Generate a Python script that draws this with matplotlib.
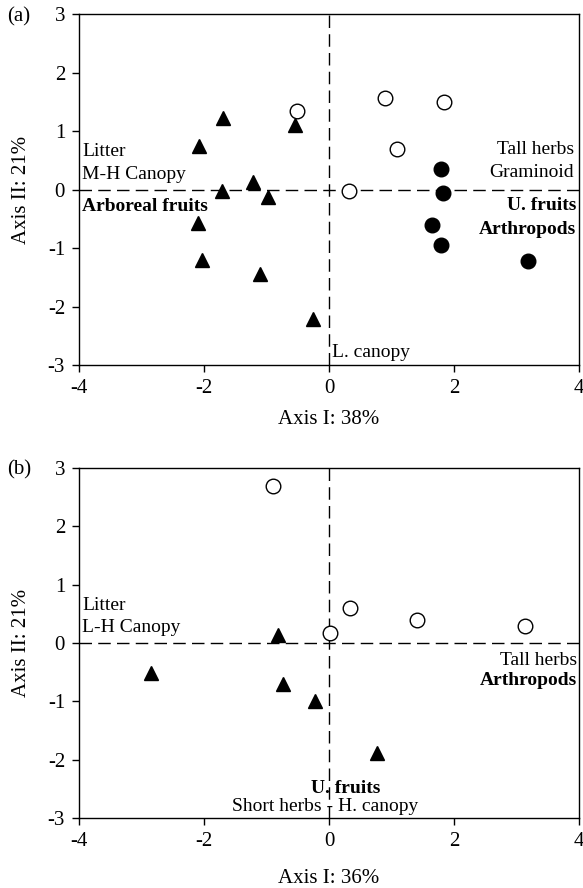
import matplotlib
matplotlib.use("Agg")
import matplotlib.pyplot as plt

plt.rcParams['font.family'] = ['Liberation Serif', 'DejaVu Serif']

# ---- Panel (a) data ----
a_tri_x = [-1.70, -2.08, -0.55, -1.21, -1.72, -0.97, -2.10, -2.03, -1.11, -0.26]
a_tri_y = [1.22, 0.74, 1.10, 0.13, -0.02, -0.13, -0.58, -1.21, -1.44, -2.21]
a_open_x = [-0.52, 0.89, 1.84, 1.08, 0.32]
a_open_y = [1.35, 1.57, 1.50, 0.69, -0.02]
a_fill_x = [1.79, 1.82, 1.64, 1.79, 3.18]
a_fill_y = [0.36, -0.05, -0.61, -0.95, -1.23]

# ---- Panel (b) data ----
b_tri_x = [-0.81, -2.85, -0.74, -0.22, 0.76]
b_tri_y = [0.14, -0.51, -0.70, -0.99, -1.89]
b_open_x = [-0.90, 0.34, 0.01, 1.41, 3.14]
b_open_y = [2.70, 0.60, 0.17, 0.39, 0.29]

ticks_x = [-4, -2, 0, 2, 4]
ticks_y = [-3, -2, -1, 0, 1, 2, 3]

fig = plt.figure(figsize=(5.83, 8.88), dpi=100)
axA = fig.add_axes([0.1355, 0.589, 0.858, 0.395])
axB = fig.add_axes([0.1355, 0.0788, 0.858, 0.394])

FS = 15
AFS = 14
MS = 10.5

def style(ax, xlabel, xpad):
    ax.set_xlim(-4, 4)
    ax.set_ylim(-3, 3)
    ax.set_xticks(ticks_x)
    ax.set_yticks(ticks_y)
    ax.set_xticklabels([str(t) for t in ticks_x])
    ax.set_yticklabels([str(t) for t in ticks_y])
    ax.tick_params(direction='out', length=5, width=1, labelsize=FS, pad=5)
    for s in ax.spines.values():
        s.set_linewidth(1.0)
        s.set_color('black')
    ax.axhline(0, color='black', lw=1.0, ls=(0, (9, 4.5)), zorder=1)
    ax.axvline(0, color='black', lw=1.0, ls=(0, (9, 4.5)), zorder=1)
    ax.set_xlabel(xlabel, fontsize=FS, labelpad=xpad)
    ax.set_ylabel('Axis II: 21%', fontsize=FS, labelpad=12)

# Panel (a)
style(axA, 'Axis I: 38%', 9)
axA.plot(a_tri_x, a_tri_y, ls='none', marker='^', ms=MS, mfc='black', mec='black', zorder=3)
axA.plot(a_open_x, a_open_y, ls='none', marker='o', ms=MS, mfc='white', mec='black', mew=1.0, zorder=3)
axA.plot(a_fill_x, a_fill_y, ls='none', marker='o', ms=MS, mfc='black', mec='black', zorder=3)
axA.text(-3.95, 0.65, 'Litter', fontsize=AFS, ha='left', va='center')
axA.text(-3.95, 0.26, 'M-H Canopy', fontsize=AFS, ha='left', va='center')
axA.text(-3.95, -0.29, 'Arboreal fruits', fontsize=AFS, ha='left', va='center', fontweight='bold')
axA.text(3.92, 0.69, 'Tall herbs', fontsize=AFS, ha='right', va='center')
axA.text(3.92, 0.30, 'Graminoid', fontsize=AFS, ha='right', va='center')
axA.text(3.95, -0.28, 'U. fruits', fontsize=AFS, ha='right', va='center', fontweight='bold')
axA.text(3.95, -0.68, 'Arthropods', fontsize=AFS, ha='right', va='center', fontweight='bold')
axA.text(0.05, -2.79, 'L. canopy', fontsize=AFS, ha='left', va='center')
fig.text(0.012, 0.981, '(a)', fontsize=FS, ha='left', va='center')

# Panel (b)
style(axB, 'Axis I: 36%', 13)
axB.plot(b_tri_x, b_tri_y, ls='none', marker='^', ms=MS, mfc='black', mec='black', zorder=3)
axB.plot(b_open_x, b_open_y, ls='none', marker='o', ms=MS, mfc='white', mec='black', mew=1.0, zorder=3)
axB.text(-3.95, 0.65, 'Litter', fontsize=AFS, ha='left', va='center')
axB.text(-3.95, 0.26, 'L-H Canopy', fontsize=AFS, ha='left', va='center')
axB.text(3.96, -0.29, 'Tall herbs', fontsize=AFS, ha='right', va='center')
axB.text(3.96, -0.65, 'Arthropods', fontsize=AFS, ha='right', va='center', fontweight='bold')
axB.text(0.27, -2.49, 'U. fruits', fontsize=AFS, ha='center', va='center', fontweight='bold')
axB.text(-0.06, -2.81, 'Short herbs - H. canopy', fontsize=AFS, ha='center', va='center')
fig.text(0.012, 0.471, '(b)', fontsize=FS, ha='left', va='center')

fig.savefig('out.png', dpi=100)
